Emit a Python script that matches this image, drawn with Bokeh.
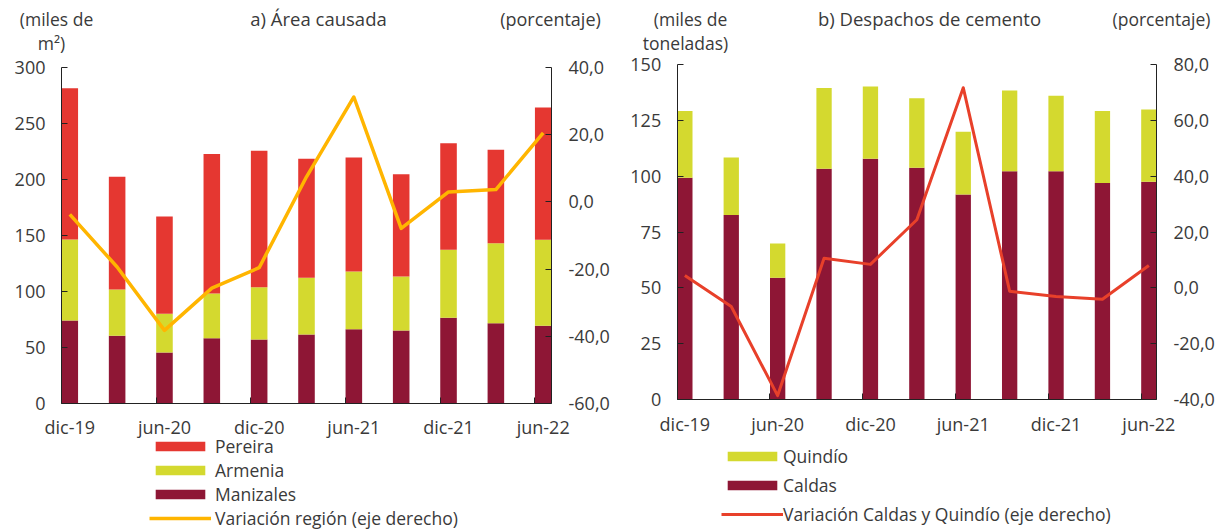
from bokeh.plotting import figure
from bokeh.layouts import row
from bokeh.models import (ColumnDataSource, Range1d, LinearAxis, FixedTicker,
                          Legend, LegendItem, Label)
from bokeh.embed import file_html
from bokeh.resources import INLINE

# ---------------- data ----------------
periods = ["dic-19", "mar-20", "jun-20", "sep-20", "dic-20", "mar-21",
           "jun-21", "sep-21", "dic-21", "mar-22", "jun-22"]
tick_labels = ["dic-19", "jun-20", "dic-20", "jun-21", "dic-21", "jun-22"]

# a) Área causada (miles de m2)
manizales = [74.0, 60.3, 45.3, 58.2, 57.0, 61.4, 66.2, 65.0, 76.4, 71.6, 69.2]
armenia = [72.4, 41.4, 34.7, 39.9, 46.8, 50.8, 51.6, 48.3, 60.8, 71.5, 77.0]
pereira = [135.4, 100.8, 87.0, 124.9, 121.9, 106.4, 102.0, 91.5, 95.4, 83.5, 118.3]
var_region = [-3.7, -19.4, -38.3, -25.7, -19.6, 7.5, 31.3, -7.9, 3.0, 3.7, 20.6]

# b) Despachos de cemento (miles de toneladas)
caldas = [99.3, 82.6, 54.5, 103.3, 107.8, 103.8, 91.8, 102.2, 102.2, 96.9, 97.5]
quindio = [29.9, 25.8, 15.4, 36.2, 32.3, 31.1, 28.1, 36.2, 33.8, 32.3, 32.3]
var_cq = [4.4, -6.7, -38.6, 10.6, 8.4, 24.4, 71.7, -1.2, -3.1, -4.1, 8.0]

left_ticks_a = [0, 50, 100, 150, 200, 250, 300]
right_ticks_a = [-60, -40, -20, 0, 20, 40]
left_ticks_b = [0, 25, 50, 75, 100, 125, 150]
right_ticks_b = [-40, -20, 0, 20, 40, 60, 80]

# ---------------- style ----------------
FONT = "Open Sans"
TXT = "#3a3a3a"
AX = "#222222"
C_PER = "#E53731"
C_ARM = "#D4D92F"
C_MAN = "#8E1635"
C_LINE_A = "#FFB500"
C_LINE_B = "#E8402A"
TICK_FS = "18px"
LEG_FS = "17.5px"
H = 529

xs = list(range(len(periods)))
tick_pos = [periods.index(t) for t in tick_labels]


def comma(v):
    return f"{v:.1f}".replace(".", ",")


def axis_common(ax):
    ax.axis_line_color = AX
    ax.major_tick_line_color = AX
    ax.major_tick_in = 6
    ax.major_tick_out = 0
    ax.minor_tick_line_color = None
    ax.major_label_text_font = FONT
    ax.major_label_text_font_size = TICK_FS
    ax.major_label_text_color = TXT


def make_panel(W, bw, fl, fr, ft, fb, lticks, rticks):
    """fl/fr/ft/fb: pixel edges (figure coords) of the data area."""
    n = len(periods)
    x_lo, x_hi = -bw / 2, n - 1 + bw / 2
    ux = (fr - fl) / (x_hi - x_lo)
    x0 = x_lo - fl / ux
    x1 = x_hi + (W - fr) / ux

    def yr(lo, hi):
        uy = (fb - ft) / (hi - lo)
        return Range1d(lo - (H - fb) / uy, hi + ft / uy)

    p = figure(width=W, height=H, output_backend="svg", toolbar_location=None,
               x_range=Range1d(x0, x1), y_range=yr(lticks[0], lticks[-1]),
               x_axis_location=None, y_axis_location=None,
               min_border=0, min_border_left=0, min_border_right=0,
               min_border_top=0, min_border_bottom=0)
    p.outline_line_color = None
    p.grid.visible = False
    p.extra_y_ranges = {"pct": yr(rticks[0], rticks[-1])}

    yl = LinearAxis(fixed_location=x_lo, bounds=(lticks[0], lticks[-1]),
                    ticker=FixedTicker(ticks=lticks))
    axis_common(yl)
    yl.major_label_standoff = 16
    p.add_layout(yl, "left")

    yrax = LinearAxis(y_range_name="pct", fixed_location=x_hi,
                      bounds=(rticks[0], rticks[-1]), ticker=FixedTicker(ticks=rticks),
                      major_label_overrides={t: comma(t) for t in rticks})
    axis_common(yrax)
    yrax.major_label_standoff = 17
    p.add_layout(yrax, "right")

    xl = LinearAxis(fixed_location=lticks[0], bounds=(x_lo, x_hi),
                    ticker=FixedTicker(ticks=tick_pos),
                    major_label_overrides={t: lab for t, lab in zip(tick_pos, tick_labels)})
    axis_common(xl)
    xl.major_tick_in = 0
    xl.major_label_standoff = 12
    p.add_layout(xl, "below")

    # tick marks sit at the left edge of the labelled bars
    xt = LinearAxis(fixed_location=lticks[0], bounds=(x_lo, x_hi),
                    ticker=FixedTicker(ticks=[t - bw / 2 for t in tick_pos]))
    axis_common(xt)
    xt.axis_line_color = None
    xt.major_label_text_color = None
    xt.major_label_text_font_size = "1px"
    p.add_layout(xt, "below")
    return p


def add_text(p, x, y_from_top, text, fs):
    p.add_layout(Label(x=x, y=H - y_from_top, x_units="screen", y_units="screen",
                       text=text, text_align="center", text_baseline="middle",
                       text_font=FONT, text_font_size=fs, text_color=TXT))


def style_legend(leg, spacing, standoff):
    leg.orientation = "vertical"
    leg.glyph_width = 62
    leg.glyph_height = 12
    leg.label_height = 20
    leg.label_standoff = standoff
    leg.spacing = spacing
    leg.padding = 0
    leg.margin = 0
    leg.border_line_color = None
    leg.background_fill_alpha = 0
    leg.label_text_font = FONT
    leg.label_text_font_size = LEG_FS
    leg.label_text_color = TXT


# ---------------- panel a ----------------
bw_a = 0.35
pa = make_panel(612, bw_a, 61, 551, 67.3, 402.7, left_ticks_a, right_ticks_a)
src_a = ColumnDataSource(dict(x=xs, Manizales=manizales, Armenia=armenia, Pereira=pereira))
bars_a = pa.vbar_stack(["Manizales", "Armenia", "Pereira"], x="x", width=bw_a, source=src_a,
                       fill_color=[C_MAN, C_ARM, C_PER], line_color=None)
line_a = pa.line(x=xs, y=var_region, y_range_name="pct",
                 line_color=C_LINE_A, line_width=3.5, line_join="round")
leg_a = Legend(items=[LegendItem(label="Pereira", renderers=[bars_a[2]]),
                      LegendItem(label="Armenia", renderers=[bars_a[1]]),
                      LegendItem(label="Manizales", renderers=[bars_a[0]]),
                      LegendItem(label="Variación región (eje derecho)", renderers=[line_a])],
               location=(149, -1))
style_legend(leg_a, -4, 4)
pa.add_layout(leg_a)
add_text(pa, 56, 18, "(miles de", "17.5px")
add_text(pa, 51, 42, "m²)", "17.5px")
add_text(pa, 318, 18, "a) Área causada", "18.5px")
add_text(pa, 550, 18, "(porcentaje)", "18px")

# ---------------- panel b ----------------
bw_b = 0.33
pb = make_panel(605, bw_b, 64.7, 544, 64, 399, left_ticks_b, right_ticks_b)
src_b = ColumnDataSource(dict(x=xs, Caldas=caldas, Quindio=quindio))
bars_b = pb.vbar_stack(["Caldas", "Quindio"], x="x", width=bw_b, source=src_b,
                       fill_color=[C_MAN, C_ARM], line_color=None)
line_b = pb.line(x=xs, y=var_cq, y_range_name="pct",
                 line_color=C_LINE_B, line_width=3, line_join="round")
leg_b = Legend(items=[LegendItem(label="Quindío", renderers=[bars_b[1]]),
                      LegendItem(label="Caldas", renderers=[bars_b[0]]),
                      LegendItem(label="Variación Caldas y Quindío (eje derecho)", renderers=[line_b])],
               location=(109, 3))
style_legend(leg_b, 5, 0)
pb.add_layout(leg_b)
add_text(pb, 78, 18, "(miles de", "17.5px")
add_text(pb, 73, 42, "toneladas)", "17.5px")
add_text(pb, 317, 18, "b) Despachos de cemento", "18.5px")
add_text(pb, 549, 18, "(porcentaje)", "17.5px")

layout = row(pa, pb)
open("out.html", "w").write(file_html(layout, INLINE))
